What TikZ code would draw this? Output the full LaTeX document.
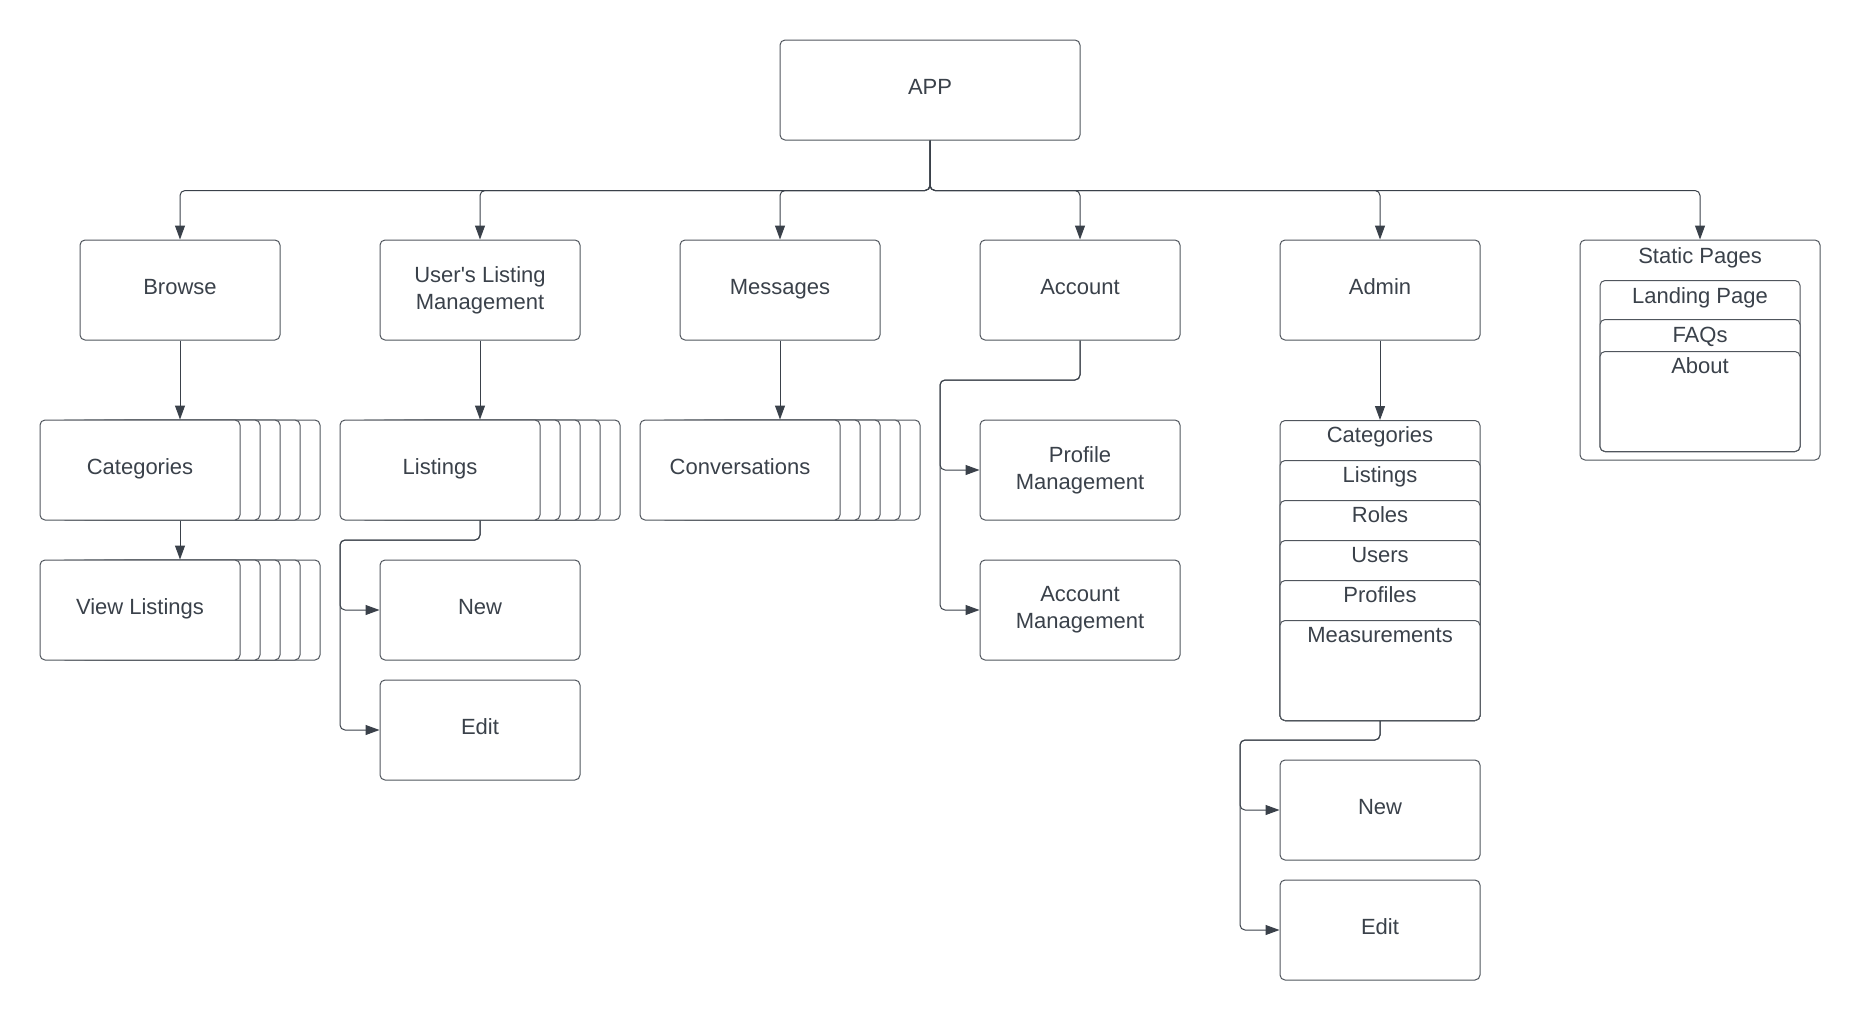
\documentclass[tikz,border=0pt]{standalone}
\usepackage{fontspec}
\setmainfont{Liberation Sans}
\usetikzlibrary{arrows.meta}
\definecolor{ink}{HTML}{3A414A}
\definecolor{edge}{HTML}{50565D}
\begin{document}
\begin{tikzpicture}[x=1pt,y=-1pt,
  box/.style={draw=edge, line width=1pt, fill=white, rounded corners=5pt,
    minimum width=200pt, minimum height=100pt, text=ink,
    font=\fontsize{22}{27}\selectfont, align=center, inner sep=0pt},
  one/.style={box, text height=16pt, text depth=8pt},
  lbl/.style={text=ink, font=\fontsize{22}{27}\selectfont, inner sep=0pt, anchor=base},
  conn/.style={draw=ink, line width=1pt, rounded corners=5pt,
    -{Triangle[length=14pt,width=10pt]}}
]
\useasboundingbox (0,0) rectangle (1860,1020);

% root
\node[one, minimum width=300pt] (app) at (930,90) {APP};

% first level
\node[one] (browse) at (180,290) {Browse};
\node[box] (ulm)    at (480,290) {User\textquotesingle s Listing\\Management};
\node[one] (msg)    at (780,290) {Messages};
\node[one] (acct)   at (1080,290) {Account};
\node[one] (admin)  at (1380,290) {Admin};
\node[box, minimum width=240pt, minimum height=220pt] (stat) at (1700,350) {};
\node[lbl] (statT) at (1700,263) {Static Pages};

\foreach \n in {browse,ulm,msg,acct,admin,stat}
  \draw[conn] (app.south) -- ++(0,50) -| (\n.north);

% static pages
\node[box, minimum width=200pt, minimum height=171pt, anchor=north] (land) at (1700,280) {};
\node[lbl] (landT) at (1700,303) {Landing Page};
\node[box, minimum width=200pt, minimum height=132pt, anchor=north] (faq) at (1700,319) {};
\node[lbl] (faqT) at (1700,342) {FAQs};
\node[box, minimum width=200pt, minimum height=100pt, anchor=north] (about) at (1700,351) {};
\node[lbl] (aboutT) at (1700,373) {About};

% browse: stacked pages
\foreach \k in {4,3,2,1}
  \node[box] (catb\k) at (140+20*\k,470) {};
\node[one] (cat) at (140,470) {Categories};
\foreach \k in {4,3,2,1}
  \node[box] (viewb\k) at (140+20*\k,610) {};
\node[one] (view) at (140,610) {View Listings};
\draw[conn] (browse.south) -- (browse.south |- cat.north);
\draw[conn] (browse.south |- cat.south) -- (browse.south |- view.north);

% user's listing management
\foreach \k in {4,3,2,1}
  \node[box] (lstb\k) at (440+20*\k,470) {};
\node[one] (lst) at (440,470) {Listings};
\node[one] (unew)  at (480,610) {New};
\node[one] (uedit) at (480,730) {Edit};
\coordinate (lsplit) at (340,540);
\draw[conn] (ulm.south) -- (ulm.south |- lst.north);
\draw[conn] (ulm.south |- lst.south) |- (lsplit) |- (unew.west);
\draw[conn] (ulm.south |- lst.south) |- (lsplit) |- (uedit.west);

% messages
\foreach \k in {4,3,2,1}
  \node[box] (convb\k) at (740+20*\k,470) {};
\node[one] (conv) at (740,470) {Conversations};
\draw[conn] (msg.south) -- (msg.south |- conv.north);

% account
\node[box] (prof) at (1080,470) {Profile\\Management};
\node[box] (amgmt) at (1080,610) {Account\\Management};
\coordinate (asplit) at (940,380);
\draw[conn] (acct.south) |- (asplit) |- (prof.west);
\draw[conn] (acct.south) |- (asplit) |- (amgmt.west);

% admin: stacked sections
\node[box, minimum height=300pt, anchor=north] (acat) at (1380,420) {};
\node[lbl] (acatT) at (1380,442) {Categories};
\node[box, minimum height=260pt, anchor=north] (alst) at (1380,460) {};
\node[lbl] (alstT) at (1380,482) {Listings};
\node[box, minimum height=220pt, anchor=north] (arole) at (1380,500) {};
\node[lbl] (aroleT) at (1380,522) {Roles};
\node[box, minimum height=180pt, anchor=north] (auser) at (1380,540) {};
\node[lbl] (auserT) at (1380,562) {Users};
\node[box, minimum height=140pt, anchor=north] (aprof) at (1380,580) {};
\node[lbl] (aprofT) at (1380,602) {Profiles};
\node[box, minimum height=100pt, anchor=north] (ameas) at (1380,620) {};
\node[lbl] (ameasT) at (1380,642) {Measurements};
\draw[conn] (admin.south) -- (acat.north);

\node[one] (bnew)  at (1380,810) {New};
\node[one] (bedit) at (1380,930) {Edit};
\coordinate (bsplit) at (1240,740);
\draw[conn] (ameas.south) |- (bsplit) |- (bnew.west);
\draw[conn] (ameas.south) |- (bsplit) |- (bedit.west);
\end{tikzpicture}
\end{document}
